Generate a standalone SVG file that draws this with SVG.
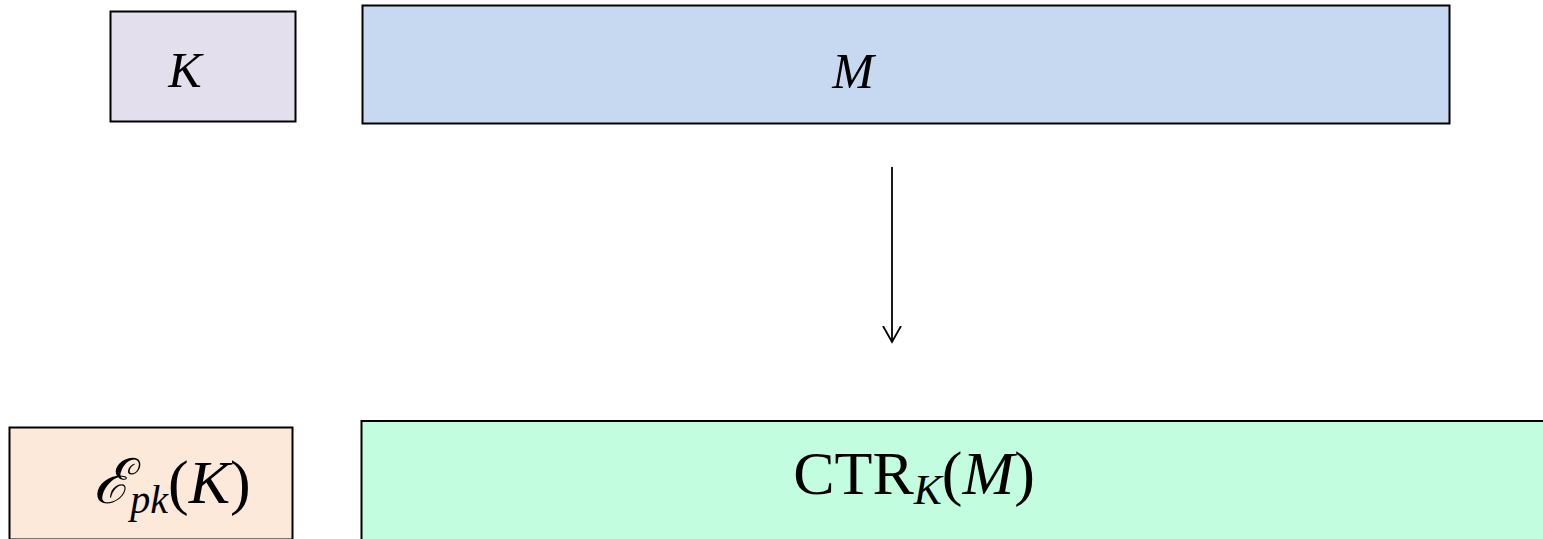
<svg xmlns="http://www.w3.org/2000/svg" width="1543" height="539" viewBox="0 0 1543 539">
<style>
.box{stroke:#000;stroke-width:2}
.t{font-family:"Liberation Serif","DejaVu Serif",serif;fill:#000}
.i{font-style:italic}
.conn{stroke:#000;stroke-width:1.8;fill:none}
</style>
<defs>
<marker id="open" markerWidth="20" markerHeight="22" refX="16" refY="10" orient="auto" markerUnits="userSpaceOnUse" viewBox="0 0 20 22">
<path d="M0,1 L16,10 L0,19" fill="none" stroke="#000" stroke-width="1.8"/>
</marker>
</defs>
<rect width="1543" height="539" fill="#fff"/>
<g id="node-K">
<rect class="box" x="110.5" y="11.5" width="185" height="110" fill="#E4DFEC"/>
<text class="t i" x="185" y="87" font-size="50" text-anchor="middle">K</text>
</g>
<g id="node-M">
<rect class="box" x="362.5" y="5.5" width="1087" height="118" fill="#C6D9F0"/>
<text class="t i" x="853" y="88" font-size="50" text-anchor="middle">M</text>
</g>
<g id="node-EpkK">
<rect class="box" x="9.5" y="427.5" width="283" height="112" fill="#FDE9D9"/>
<text class="t" x="172" y="503" font-size="62" text-anchor="middle"><tspan class="i">ℰ</tspan><tspan class="i" font-size="40" dy="10">pk</tspan><tspan dy="-10">(</tspan><tspan class="i">K</tspan>)</text>
</g>
<g id="node-CTR">
<rect class="box" x="361.5" y="421" width="1190" height="130" fill="#C3FDE0"/>
<text class="t" x="914" y="494" font-size="62" text-anchor="middle">CTR<tspan class="i" font-size="42" dy="10">K</tspan><tspan dy="-10">(</tspan><tspan class="i">M</tspan>)</text>
</g>
<g id="connectors">
<line class="conn" x1="892" y1="167" x2="892" y2="342" marker-end="url(#open)"/>
</g>
</svg>
